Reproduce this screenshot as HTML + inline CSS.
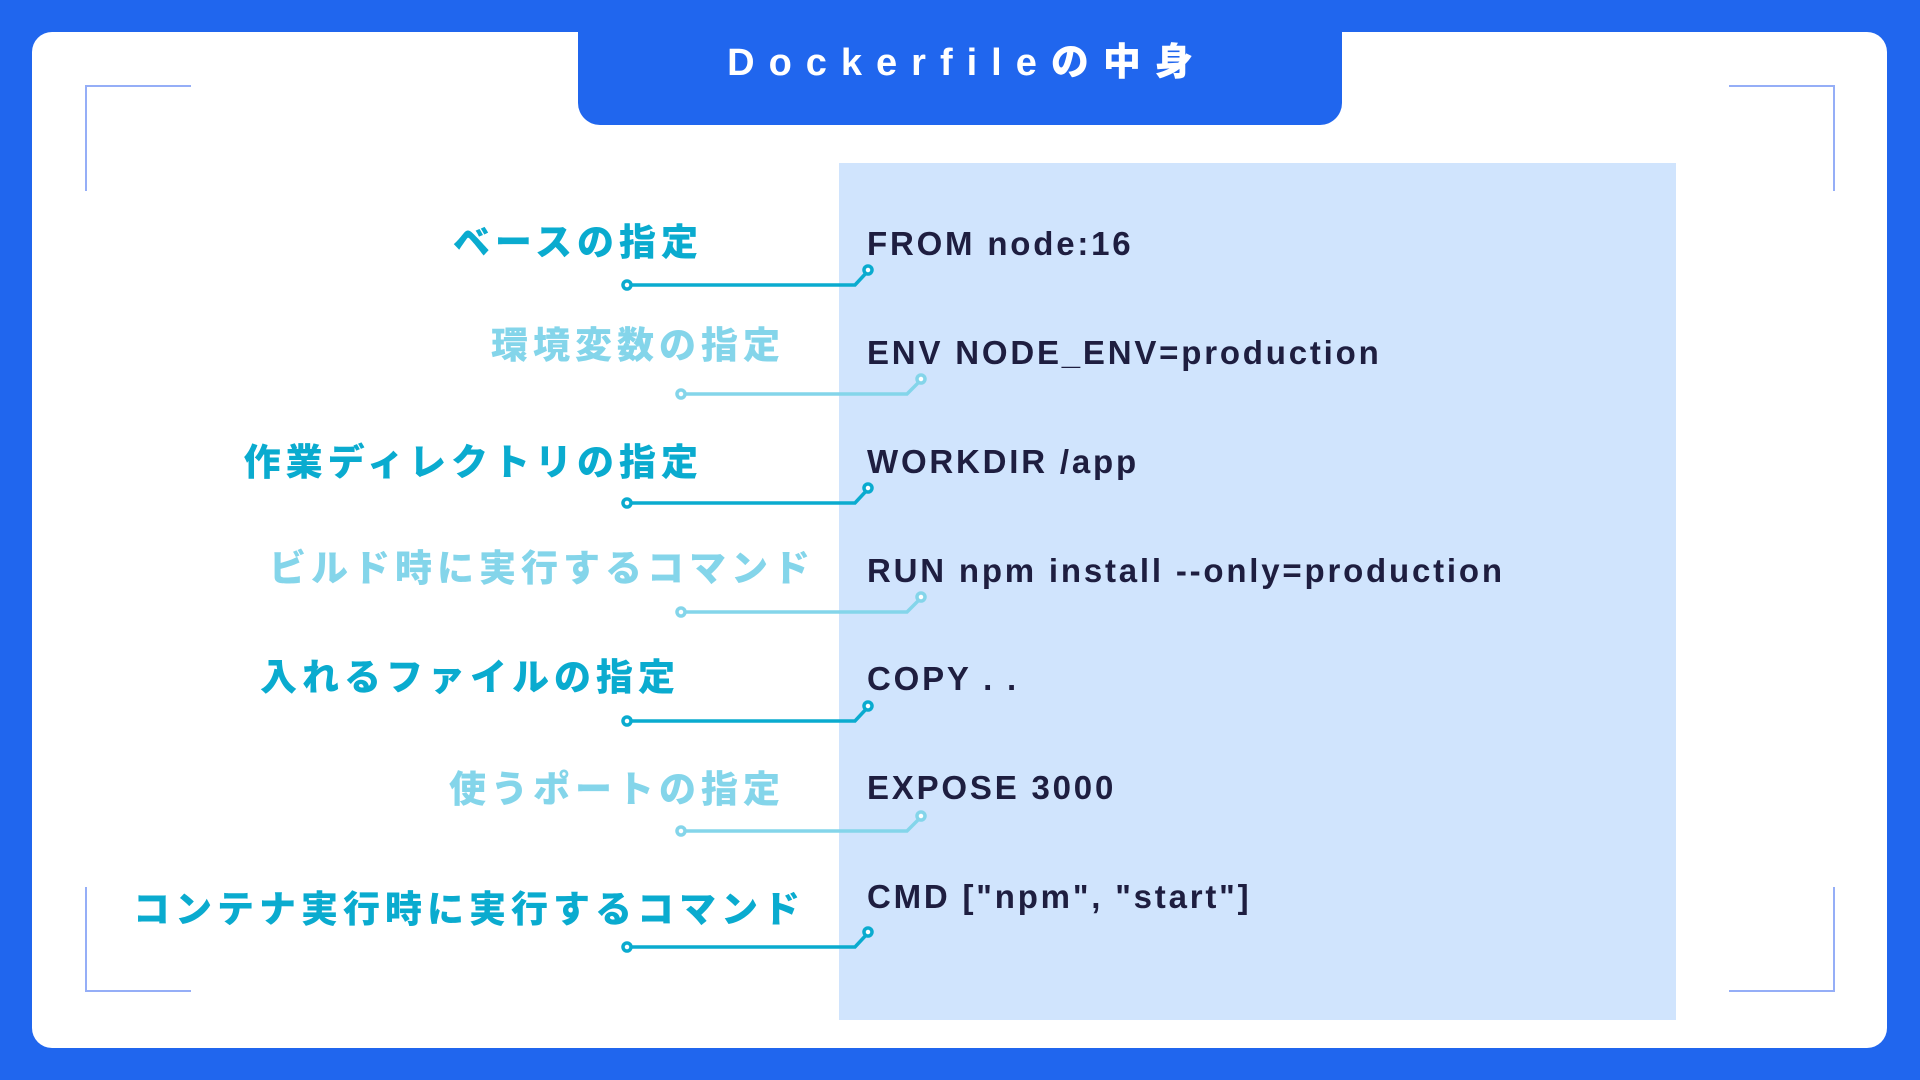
<!DOCTYPE html>
<html><head><meta charset="utf-8"><style>
body{margin:0;width:1920px;height:1080px;background:#2066ee;position:relative;overflow:hidden}
.card{position:absolute;left:32px;top:32px;width:1855px;height:1016px;background:#fff;border-radius:20px}
.tab{position:absolute;left:578px;top:0;width:764px;height:125px;background:#2066ee;border-radius:0 0 22px 22px}
.title{position:absolute;left:578px;width:764px;top:31px;height:52px;line-height:52px;text-align:center;color:#fff;font:900 38px "Liberation Sans","Noto Sans CJK JP",sans-serif;letter-spacing:14px;padding-left:14px;box-sizing:border-box}
.panel{position:absolute;left:839px;top:163px;width:837px;height:857px;background:#d0e4fd}
.code{position:absolute;left:867px;height:40px;line-height:40px;color:#1e1e40;font:bold 33px "Liberation Sans",sans-serif;letter-spacing:2.8px;white-space:nowrap}
.lbl{position:absolute;height:46px;line-height:46px;text-align:right;font:900 37px "Noto Sans CJK JP","WenQuanYi Zen Hei",sans-serif;letter-spacing:5px;white-space:nowrap}
.d{color:#0aabcf}.l{color:#84d5ea}
</style></head><body>
<div class="card"></div>
<div class="tab"></div>
<div class="title">Dockerfileの中身</div>
<div class="panel"></div>
<svg width="1920" height="1080" style="position:absolute;left:0;top:0">
<g fill="none" stroke="#95aef7" stroke-width="2">
<path d="M86 191V86H191"/><path d="M86 887V991H191"/>
<path d="M1834 191V86H1729"/><path d="M1834 887V991H1729"/>
</g>
<g fill="#fff" stroke-width="3.5">
<g stroke="#0aabcf">
<path d="M627 285H855L868 271" fill="none"/><circle cx="627" cy="285" r="4"/><circle cx="868" cy="270" r="4"/>
<path d="M627 503H855L868 489" fill="none"/><circle cx="627" cy="503" r="4"/><circle cx="868" cy="488" r="4"/>
<path d="M627 721H855L868 707" fill="none"/><circle cx="627" cy="721" r="4"/><circle cx="868" cy="706" r="4"/>
<path d="M627 947H855L868 933" fill="none"/><circle cx="627" cy="947" r="4"/><circle cx="868" cy="932" r="4"/>
</g>
<g stroke="#84d5ea">
<path d="M681 394H907L921 380" fill="none"/><circle cx="681" cy="394" r="4"/><circle cx="921" cy="379" r="4"/>
<path d="M681 612H907L921 598" fill="none"/><circle cx="681" cy="612" r="4"/><circle cx="921" cy="597" r="4"/>
<path d="M681 831H907L921 817" fill="none"/><circle cx="681" cy="831" r="4"/><circle cx="921" cy="816" r="4"/>
</g>
</g>
</svg>
<div class="code" style="top:225px">FROM node:16</div>
<div class="code" style="top:334px">ENV NODE_ENV=production</div>
<div class="code" style="top:443px">WORKDIR /app</div>
<div class="code" style="top:552px">RUN npm install --only=production</div>
<div class="code" style="top:660px">COPY . .</div>
<div class="code" style="top:769px">EXPOSE 3000</div>
<div class="code" style="top:878px">CMD ["npm", "start"]</div>
<div class="lbl d" style="right:1217px;top:212px">ベースの指定</div>
<div class="lbl l" style="right:1135px;top:315px">環境変数の指定</div>
<div class="lbl d" style="right:1217px;top:432px">作業ディレクトリの指定</div>
<div class="lbl l" style="right:1105px;top:538px">ビルド時に実行するコマンド</div>
<div class="lbl d" style="right:1240px;top:647px">入れるファイルの指定</div>
<div class="lbl l" style="right:1135px;top:759px">使うポートの指定</div>
<div class="lbl d" style="right:1115px;top:879px">コンテナ実行時に実行するコマンド</div>
</body></html>
